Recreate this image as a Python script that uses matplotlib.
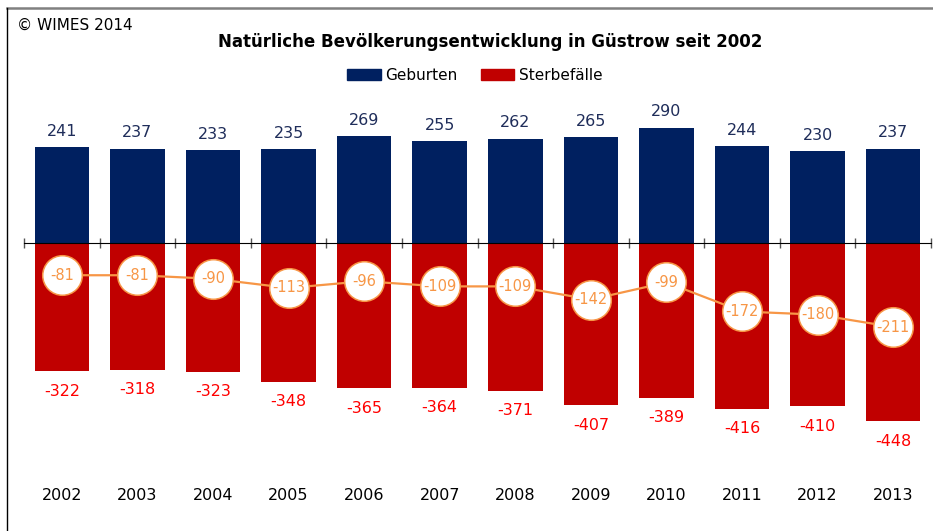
import matplotlib
matplotlib.use("Agg")
import matplotlib.pyplot as plt
import matplotlib.transforms as mtransforms
from matplotlib.patches import Patch
from matplotlib.lines import Line2D

# Daten
jahre = ["2002", "2003", "2004", "2005", "2006", "2007",
         "2008", "2009", "2010", "2011", "2012", "2013"]
geburten = [241, 237, 233, 235, 269, 255, 262, 265, 290, 244, 230, 237]
sterbefaelle = [-322, -318, -323, -348, -365, -364, -371, -407, -389, -416, -410, -448]
saldo = [-81, -81, -90, -113, -96, -109, -109, -142, -99, -172, -180, -211]

navy = "#002060"
rot = "#C00000"
orange = "#F79646"

plt.rcParams['font.family'] = ['DejaVu Sans']

W, H = 933, 531
fig = plt.figure(figsize=(W / 100, H / 100), dpi=100)
ax = fig.add_axes([24 / W, (H - 460) / H, (931 - 24) / W, 350 / H])

x = list(range(len(jahre)))
ax.bar(x, geburten, width=0.72, color=navy, zorder=2)
ax.bar(x, sterbefaelle, width=0.72, color=rot, zorder=2)

# Saldo-Linie mit Kreisen
ax.plot(x, saldo, color=orange, lw=1.6, zorder=3)
ax.plot(x, saldo, 'o', ms=28.5, mfc='white', mec=orange, mew=1.1, zorder=4)
for xi, v in zip(x, saldo):
    ax.text(xi, v, str(v), ha='center', va='center', color=orange, fontsize=10.5, zorder=5)

# Beschriftungen der Balken
for xi, v in zip(x, geburten):
    ax.annotate(str(v), (xi, v), xytext=(0, 6), textcoords='offset points',
                ha='center', va='bottom', color="#1F2D5A", fontsize=11.5)
for xi, v in zip(x, sterbefaelle):
    ax.annotate(str(v), (xi, v), xytext=(0, -9), textcoords='offset points',
                ha='center', va='top', color="#FF0000", fontsize=11.5)

ax.set_xlim(-0.5, len(jahre) - 0.5)
ax.set_ylim(-545, 334)

# Achsen
for s in ['top', 'right', 'left']:
    ax.spines[s].set_visible(False)
ax.spines['bottom'].set_position(('data', 0))
ax.spines['bottom'].set_color('black')
ax.spines['bottom'].set_zorder(6)
ax.set_yticks([])
ax.set_xticks([i - 0.5 for i in range(len(jahre) + 1)])
ax.set_xticklabels([])
ax.tick_params(axis='x', direction='inout', length=7, width=1, color='#555555')

# Jahreszahlen unter dem Diagramm
trans = mtransforms.blended_transform_factory(ax.transData, fig.transFigure)
for xi, j in zip(x, jahre):
    ax.text(xi, 1 - 495 / H, j, transform=trans, ha='center', va='center',
            fontsize=11.5, color='black')

# Titel, Copyright, Legende
fig.text(490 / W, 1 - 42 / H, "Natürliche Bevölkerungsentwicklung in Güstrow seit 2002",
         ha='center', va='center', fontsize=12, fontweight='bold')
fig.text(17 / W, 1 - 25 / H, "© WIMES 2014", ha='left', va='center', fontsize=11)

handles = [Patch(color=navy, label="Geburten"), Patch(color=rot, label="Sterbefälle")]
fig.legend(handles=handles, loc='center', bbox_to_anchor=(475 / W, 1 - 75 / H), ncol=2,
           frameon=False, fontsize=11, handlelength=2.2, handleheight=0.7,
           handletextpad=0.3, columnspacing=1.5)

# Rahmen
fig.add_artist(Line2D([7 / W, 1], [1 - 7.5 / H, 1 - 7.5 / H], color='#808080', lw=1.8))
fig.add_artist(Line2D([7.5 / W, 7.5 / W], [0, 1 - 7.5 / H], color='black', lw=1))

fig.savefig("out.png", dpi=100)
